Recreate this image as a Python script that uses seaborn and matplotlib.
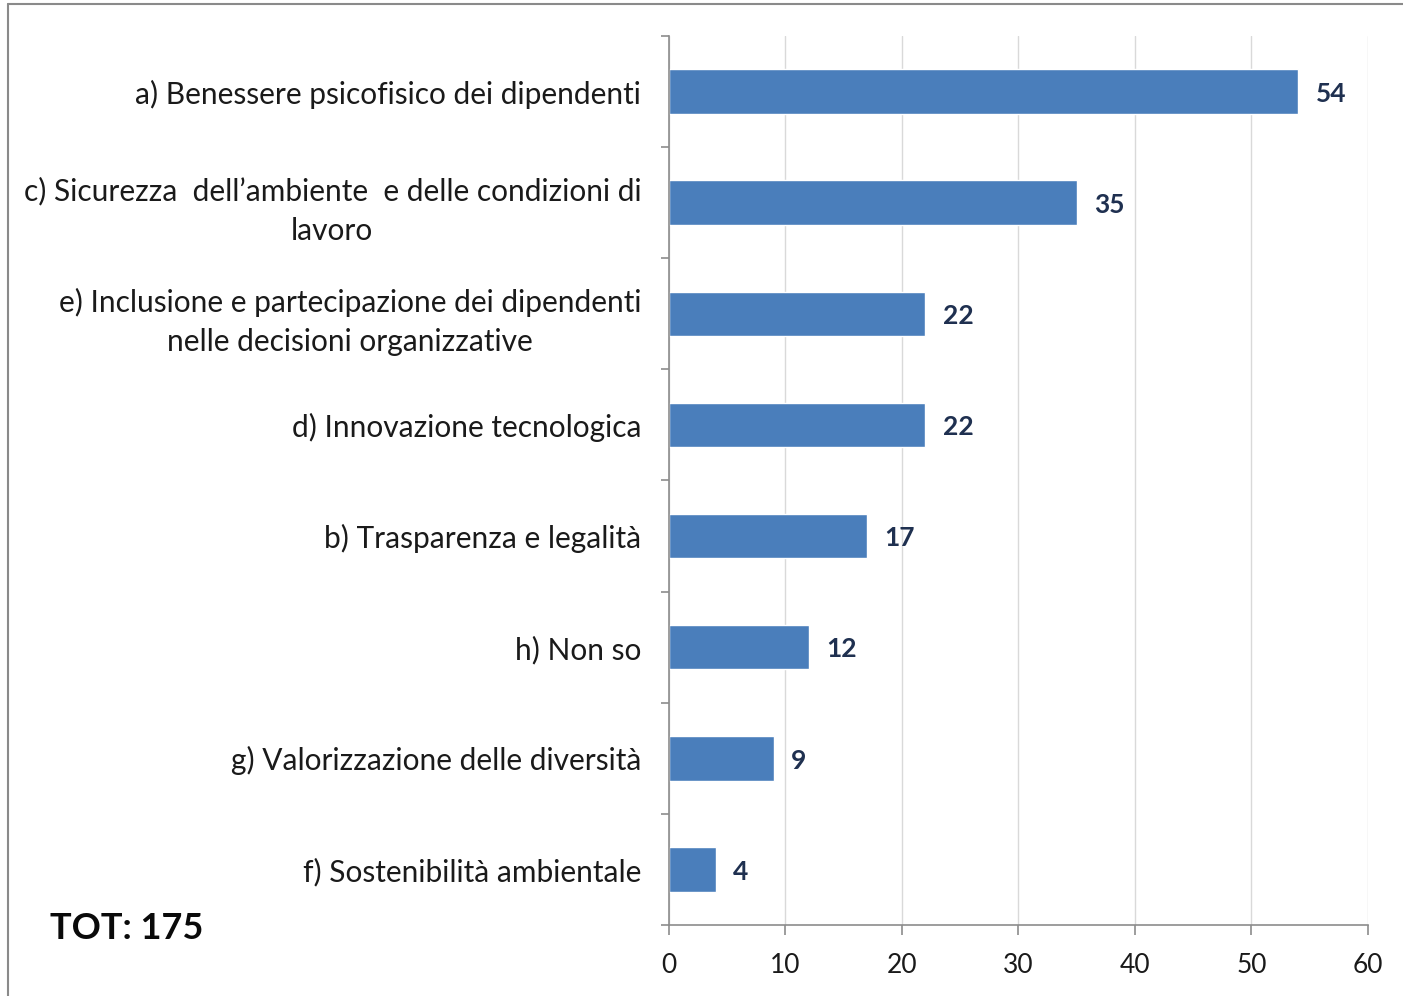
import seaborn as sns
import pandas as pd
import matplotlib.pyplot as plt
from matplotlib.lines import Line2D
from matplotlib.ticker import FixedLocator

sns.set_style("white")
plt.rcParams['font.family'] = ['Lato', 'DejaVu Sans']

categories = [
    'a) Benessere psicofisico dei dipendenti',
    'c) Sicurezza  dell\u2019ambiente  e delle condizioni di\nlavoro',
    'e) Inclusione e partecipazione dei dipendenti\nnelle decisioni organizzative',
    'd) Innovazione tecnologica',
    'b) Trasparenza e legalit\u00e0',
    'h) Non so',
    'g) Valorizzazione delle diversit\u00e0',
    'f) Sostenibilit\u00e0 ambientale',
]
values = [54, 35, 22, 22, 17, 12, 9, 4]
total_label = 'TOT: 175'

df = pd.DataFrame({'cat': categories, 'n': values})

bar_color = '#4A7EBB'
label_color = '#1F3050'
axis_color = '#8C8C8C'

fig = plt.figure(figsize=(14.03, 9.96), dpi=100)
ax = fig.add_axes([0.4768, 0.0713, 0.4982, 0.8926])

sns.barplot(data=df, x='n', y='cat', color=bar_color, width=0.4,
            saturation=1, ax=ax, orient='h')

ax.set_xlim(0, 60)
ax.set_ylim(len(values) - 0.5, -0.5)
ax.set_xticks(range(0, 61, 10))
ax.set_xlabel('')
ax.set_ylabel('')

# vertical gridlines
ax.grid(axis='x', color='#D9D9D9', linewidth=1)
ax.set_axisbelow(True)

for s in ['top', 'right']:
    ax.spines[s].set_visible(False)
for s in ['left', 'bottom']:
    ax.spines[s].set_color(axis_color)
    ax.spines[s].set_linewidth(1.2)

# ticks at category boundaries
ax.yaxis.set_minor_locator(FixedLocator([i - 0.5 for i in range(len(values) + 1)]))
ax.tick_params(axis='y', which='major', length=0, pad=20, labelsize=21.5, labelcolor='#1A1A1A')
ax.tick_params(axis='y', which='minor', left=True, length=6, width=1.2, color=axis_color)
ax.tick_params(axis='x', which='major', bottom=True, length=7, width=1.2, color=axis_color,
               pad=13, labelsize=19, labelcolor='#1A1A1A')
for lab in ax.get_yticklabels():
    lab.set_multialignment('center')
    lab.set_linespacing(1.5)

for i, v in enumerate(values):
    ax.text(v + 1.5, i + 0.02, str(v), va='center', ha='left', fontsize=19,
            fontweight='bold', color=label_color)

fig.text(50 / 1403, 1 - 928 / 996, total_label, fontsize=26, fontweight='bold',
         color='#0A0A0A', ha='left', va='center')

# chart area frame (top and left edges)
fig.add_artist(Line2D([8 / 1403, 1], [1 - 4 / 996, 1 - 4 / 996], color='#8A8A8A', linewidth=1.5,
                      transform=fig.transFigure))
fig.add_artist(Line2D([8 / 1403, 8 / 1403], [0, 1 - 4 / 996], color='#8A8A8A', linewidth=1.5,
                      transform=fig.transFigure))

plt.savefig('out.png', dpi=100)
